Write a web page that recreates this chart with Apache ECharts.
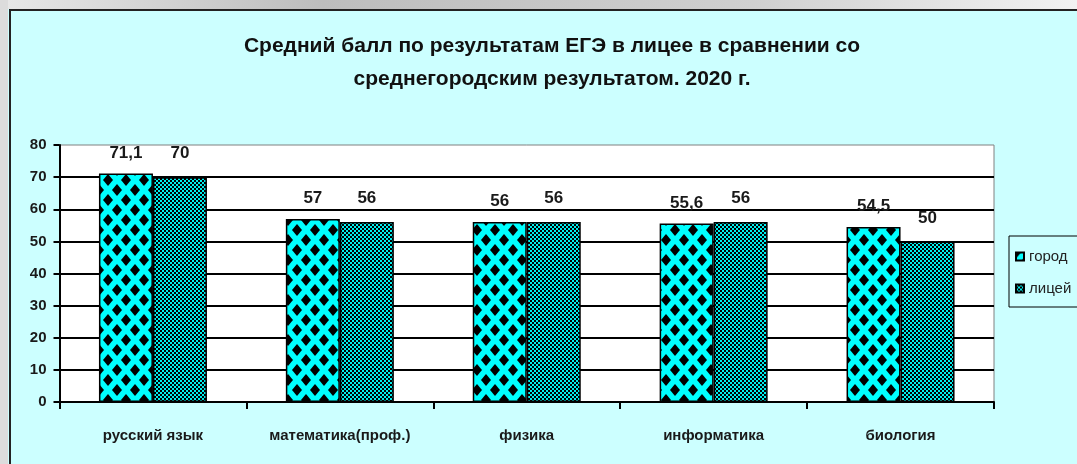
<!DOCTYPE html>
<html>
<head>
<meta charset="utf-8">
<script src="https://cdn.jsdelivr.net/npm/echarts@6/dist/echarts.min.js"></script>
<style>
  html, body { margin: 0; padding: 0; background: #ccffff; }
  #chart { width: 1077px; height: 464px; }
</style>
</head>
<body>
<div id="chart"></div>
<script>
// данные с картинки
const categories = ['русский язык', 'математика(проф.)', 'физика', 'информатика', 'биология'];
const cityScores = [71.1, 57, 56, 55.6, 54.5];
const lyceumScores = [70, 56, 56, 56, 50];
const seriesNames = ['город', 'лицей'];
const yMin = 0, yMax = 80, yStep = 10;

const FONT = '"Liberation Sans", Arial, sans-serif';

// штриховки как в Excel
function diamondPattern() {
  const c = document.createElement('canvas');
  c.width = 18; c.height = 20;
  const g = c.getContext('2d');
  g.fillStyle = '#00ffff';
  g.fillRect(0, 0, 18, 20);
  g.fillStyle = '#000';
  const dia = (cx, cy) => {
    g.beginPath();
    g.moveTo(cx - 5, cy); g.lineTo(cx, cy - 6);
    g.lineTo(cx + 5, cy); g.lineTo(cx, cy + 6);
    g.closePath(); g.fill();
  };
  dia(0, 0); dia(18, 0); dia(0, 20); dia(18, 20); dia(9, 10);
  return c;
}
function meshPattern() {
  const c = document.createElement('canvas');
  c.width = 4; c.height = 4;
  const g = c.getContext('2d');
  g.fillStyle = '#000';
  g.fillRect(0, 0, 4, 4);
  g.fillStyle = '#00eeee';
  g.fillRect(0, 0, 2, 2);
  g.fillRect(2, 2, 2, 2);
  return c;
}

const chart = echarts.init(document.getElementById('chart'));

const labelFmt = p => String(p.value).replace('.', ',');

const option = {
  backgroundColor: '#ccffff',
  animation: false,
  textStyle: { fontFamily: FONT },
  title: {
    text: 'Средний балл по результатам ЕГЭ в лицее в сравнении со\nсреднегородским результатом. 2020 г.',
    left: 547,
    textAlign: 'center',
    top: 25,
    textStyle: { fontFamily: FONT, fontSize: 21, fontWeight: 'bold', color: '#111', lineHeight: 33 }
  },
  legend: {
    orient: 'vertical',
    left: 1009,
    top: 236,
    backgroundColor: '#ccffff',
    borderColor: '#000',
    borderWidth: 1,
    borderRadius: 0,
    padding: [13, 30, 11, 6],
    itemWidth: 8,
    itemHeight: 8,
    itemGap: 17,
    icon: 'rect',
    data: seriesNames,
    textStyle: { fontFamily: FONT, fontSize: 15, color: '#222' }
  },
  grid: {
    left: 59.5,
    right: 83,
    top: 145,
    bottom: 62,
    show: true,
    backgroundColor: '#fff',
    borderColor: '#808080',
    borderWidth: 1
  },
  xAxis: {
    type: 'category',
    data: categories,
    axisLine: { lineStyle: { color: '#000', width: 2 } },
    axisTick: { show: true, length: 7, lineStyle: { color: '#000', width: 2 } },
    axisLabel: { margin: 26, fontFamily: FONT, fontSize: 15, fontWeight: 'bold', color: '#1a1a1a' }
  },
  yAxis: {
    type: 'value',
    min: yMin,
    max: yMax,
    interval: yStep,
    axisLine: { show: true, lineStyle: { color: '#000', width: 2 } },
    axisTick: { show: true, length: 6, lineStyle: { color: '#000', width: 2 } },
    axisLabel: { margin: 13, fontFamily: FONT, fontSize: 15, fontWeight: 'bold', color: '#1a1a1a' },
    splitLine: { show: true, showMinLine: false, showMaxLine: false, lineStyle: { color: '#000', width: 2 } }
  },
  series: [
    {
      name: seriesNames[0],
      type: 'bar',
      data: cityScores,
      barWidth: 54,
      barGap: '0%',
      itemStyle: { color: { image: diamondPattern(), repeat: 'repeat' }, borderColor: '#000', borderWidth: 1.5 },
      label: { show: true, position: 'top', distance: 12, formatter: labelFmt,
               fontFamily: FONT, fontSize: 17, fontWeight: 'bold', color: '#1a1a1a' }
    },
    {
      name: seriesNames[1],
      type: 'bar',
      data: lyceumScores,
      barWidth: 54,
      itemStyle: { color: { image: meshPattern(), repeat: 'repeat' }, borderColor: '#000', borderWidth: 1.5 },
      label: { show: true, position: 'top', distance: 15, formatter: labelFmt,
               fontFamily: FONT, fontSize: 17, fontWeight: 'bold', color: '#1a1a1a' }
    }
  ],
  graphic: [
    // полоса сверху (кусок страницы документа)
    { type: 'rect', silent: true, shape: { x: 0, y: 0, width: 1077, height: 9 },
      style: { fill: new echarts.graphic.LinearGradient(0, 0, 1, 0, [
        { offset: 0, color: '#e8e8e8' }, { offset: 0.3, color: '#bdbdbd' },
        { offset: 0.7, color: '#d0d0d0' }, { offset: 1, color: '#f2f2f2' }]) } },
    // серая полоса слева
    { type: 'rect', silent: true, shape: { x: 0, y: 0, width: 8, height: 464 }, style: { fill: '#dcdcdc' } },
    // рамка диаграммы
    { type: 'rect', silent: true, shape: { x: 9, y: 9, width: 1068, height: 2 }, style: { fill: '#222' } },
    { type: 'rect', silent: true, shape: { x: 9, y: 9, width: 2, height: 455 }, style: { fill: '#222' } }
  ]
};

chart.setOption(option);
</script>
</body>
</html>
